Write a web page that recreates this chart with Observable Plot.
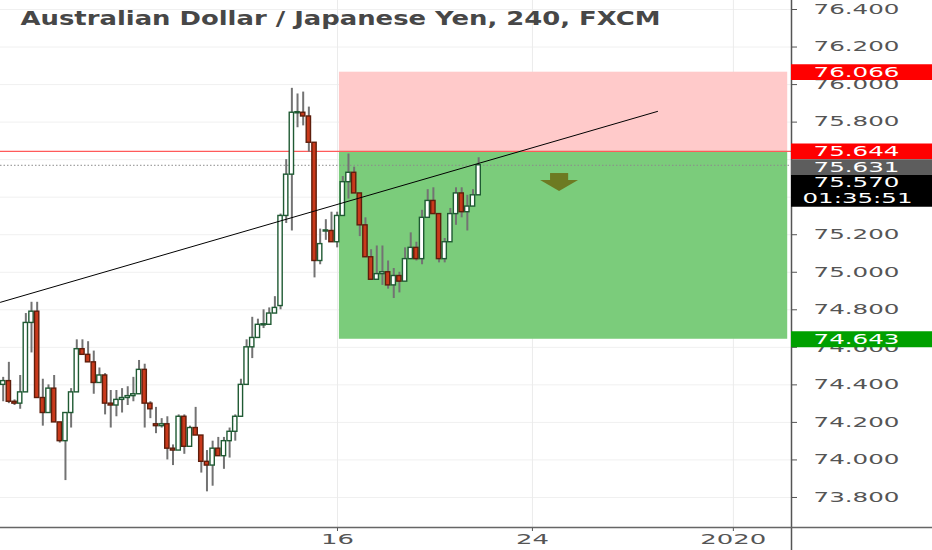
<!DOCTYPE html>
<html>
<head>
<meta charset="utf-8">
<script src="https://cdn.jsdelivr.net/npm/d3@7"></script>
<script src="https://cdn.jsdelivr.net/npm/@observablehq/plot@0.6"></script>
<style>
html,body{margin:0;padding:0;background:#fff;overflow:hidden;}
#chart svg{display:block;}
</style>
</head>
<body>
<div id="chart"></div>
<script>
// ---------- data ----------
const title = "Australian Dollar / Japanese Yen, 240, FXCM";

const opens = [
74.40,74.42,74.31,74.30,74.36,74.73,74.79,74.33,74.25,74.38,
74.20,74.10,74.25,74.36,74.59,74.56,74.52,74.41,74.45,74.30,
74.29,74.32,74.33,74.34,74.35,74.48,74.30,74.19,74.18,74.19,
74.06,74.05,74.23,74.07,74.17,74.13,73.99,73.97,74.06,74.02,
74.10,74.15,74.23,74.40,74.60,74.65,74.72,74.72,74.78,74.82,
75.30,75.52,75.85,75.85,75.83,75.69,75.06,75.22,75.22,75.16,
75.30,75.48,75.53,75.42,75.25,75.08,74.96,74.99,75.00,74.93,
74.98,74.95,75.07,75.13,75.07,75.29,75.38,75.31,75.07,75.16,
75.31,75.42,75.32,75.35,75.41];
const highs = [
74.44,74.52,74.32,74.45,74.78,74.84,74.84,74.43,74.40,74.45,
74.20,74.25,74.38,74.64,74.64,74.63,74.58,74.49,74.46,74.37,
74.37,74.38,74.39,74.44,74.53,74.51,74.31,74.28,74.22,74.23,
74.08,74.24,74.24,74.18,74.28,74.13,74.05,74.10,74.12,74.12,
74.17,74.24,74.43,74.64,74.76,74.75,74.80,74.81,74.87,75.31,
75.60,75.98,75.95,75.96,75.88,75.69,75.23,75.28,75.32,75.32,
75.51,75.63,75.56,75.42,75.29,75.12,75.14,75.14,75.06,75.02,
75.00,75.13,75.21,75.16,75.33,75.44,75.45,75.31,75.18,75.34,
75.45,75.45,75.41,75.44,75.61];
const lows = [
74.31,74.30,74.29,74.27,74.36,74.57,74.33,74.18,74.25,74.20,
74.09,73.89,74.17,74.36,74.56,74.52,74.35,74.41,74.24,74.17,
74.23,74.25,74.29,74.31,74.35,74.17,74.22,74.14,74.17,74.00,
73.97,74.05,74.03,74.07,74.13,73.93,73.83,73.86,74.02,73.95,
74.01,74.10,74.23,74.40,74.54,74.65,74.70,74.72,74.78,74.80,
75.26,75.22,75.77,75.78,75.64,74.97,75.04,75.17,75.16,75.13,
75.30,75.39,75.42,75.19,75.08,74.96,74.96,74.93,74.91,74.86,
74.89,74.95,75.07,75.06,75.04,75.29,75.31,75.05,75.05,75.16,
75.25,75.29,75.22,75.35,75.41];
const closes = [
74.42,74.31,74.30,74.36,74.73,74.79,74.33,74.25,74.38,74.20,
74.10,74.25,74.36,74.59,74.56,74.52,74.41,74.45,74.30,74.29,
74.32,74.33,74.34,74.35,74.48,74.30,74.27,74.18,74.19,74.06,
74.05,74.23,74.07,74.17,74.13,73.99,73.97,74.06,74.02,74.10,
74.15,74.23,74.40,74.60,74.65,74.72,74.72,74.78,74.81,75.30,
75.52,75.85,75.85,75.83,75.69,75.06,75.15,75.22,75.16,75.30,
75.48,75.53,75.42,75.25,75.08,74.96,74.99,75.00,74.93,74.98,
74.95,75.07,75.13,75.07,75.29,75.38,75.31,75.07,75.16,75.31,
75.42,75.32,75.35,75.41,75.57];

const gridTicks = [73.8,74.0,74.2,74.4,74.6,74.8,75.0,75.2,75.4,75.6,75.8,76.0,76.2,76.4];
const yAxisLabels = [73.8,74.0,74.2,74.4,74.6,74.8,75.0,75.2,75.8,76.0,76.2,76.4]; // 75.4 / 75.6 sit under the price tags
const xTickBars = [59.06, 93.5, 129.0];          // bar-index position of the time labels
const xTickLabels = ["16", "24", "2020"];

const stopPrice = 76.066, entryPrice = 75.644, markPrice = 75.631, lastPrice = 75.570, targetPrice = 74.643;
const countdown = "01:35:51";
const zoneBars = [59.4, 138.6];                  // short-position box start / end (bar index)
const trendBars = [-0.48, 115.6];
const trendPrices = [74.84, 75.857];
const arrowBar = 98.3;
const arrowPrices = [75.526, 75.489, 75.430];    // shaft top, head base, tip

// ---------- derived tables ----------
const candles = opens.map((o, i) => ({i, o, h: highs[i], l: lows[i], c: closes[i]}));
const trend = trendBars.map((b, k) => ({b, p: trendPrices[k]}));
const xDomain = [-0.477, 139.27];
const yDomain = [73.640, 76.448];
const xMax = xDomain[1];
const fmt = v => v.toFixed(3);
const tickLabel = new Map(xTickBars.map((b, k) => [b, xTickLabels[k]]));

const zones = [
  {x1: zoneBars[0], x2: zoneBars[1], lo: entryPrice, hi: stopPrice, fill: "#ffcaca"},
  {x1: zoneBars[0], x2: zoneBars[1], lo: targetPrice, hi: entryPrice, fill: "#7bcc7b"}
];
const tags = [
  {y: stopPrice, text: fmt(stopPrice), bg: "#ff0000", row: 0, dx: 22},
  {y: entryPrice, text: fmt(entryPrice), bg: "#ff0000", row: 0, dx: 22},
  {y: entryPrice, text: fmt(markPrice), bg: "#5d5d5d", row: 1, dx: 22},
  {y: entryPrice, text: fmt(lastPrice), bg: "#000000", row: 2, dx: 22},
  {y: entryPrice, text: countdown, bg: "#000000", row: 3, dx: 11},
  {y: targetPrice, text: fmt(targetPrice), bg: "#00a000", row: 0, dx: 22}
];
const rowH = 15.8;

const body = (d) => {
  const lo = Math.min(d.o, d.c), hi = Math.max(d.o, d.c);
  if (hi - lo < 0.006) { const m = (hi + lo) / 2; return [m - 0.003, m + 0.003]; }
  return [lo, hi];
};
const arrowHead = [
  {x: arrowBar - 3.35, y1: arrowPrices[1], y2: arrowPrices[1]},
  {x: arrowBar, y1: arrowPrices[1], y2: arrowPrices[2]},
  {x: arrowBar + 3.35, y1: arrowPrices[1], y2: arrowPrices[1]}
];

const tagMarks = tags.flatMap(t => [
  Plot.ruleY([t], {y: "y", x1: () => xMax, x2: () => xMax + 40, stroke: t.bg, strokeWidth: rowH, dy: t.row * rowH}),
  Plot.text([t], {y: "y", x: () => xMax, text: "text", dx: t.dx, dy: t.row * rowH, textAnchor: "start",
    fill: "#ffffff", fontSize: 13.5})
]);

const chart = Plot.plot({
  width: 932, height: 550,
  marginLeft: 0, marginRight: 141, marginTop: 0, marginBottom: 23,
  x: {domain: xDomain, axis: null},
  y: {domain: yDomain, axis: null},
  color: {type: "identity"},
  style: {fontFamily: "DejaVu Sans, sans-serif", background: "#ffffff", overflow: "hidden"},
  marks: [
    Plot.gridY(gridTicks, {stroke: "#f0f0f0", strokeOpacity: 1}),
    Plot.gridX(xTickBars, {stroke: "#ebebeb", strokeOpacity: 1}),
    Plot.rect(zones, {x1: "x1", x2: "x2", y1: "lo", y2: "hi", fill: "fill"}),
    Plot.ruleY([entryPrice], {stroke: "#ff5a5a", strokeWidth: 1.2}),
    Plot.ruleY([lastPrice], {stroke: "#8c8c8c", strokeWidth: 1, strokeDasharray: "1.5,2"}),
    Plot.ruleX(candles, {x: "i", y1: "l", y2: "h", stroke: "#737373", strokeWidth: 2}),
    Plot.rect(candles, {
      x1: d => d.i - 0.38, x2: d => d.i + 0.38,
      y1: d => body(d)[0], y2: d => body(d)[1],
      fill: d => d.c >= d.o ? "#ffffff" : "#c9391b",
      stroke: d => d.c >= d.o ? "#1f5a33" : "#5e1e0c",
      strokeWidth: 1.4
    }),
    Plot.line(trend, {x: "b", y: "p", stroke: "#000000", strokeWidth: 1}),
    Plot.rect([arrowBar], {x1: d => d - 1.6, x2: d => d + 1.6, y1: () => arrowPrices[1], y2: () => arrowPrices[0], fill: "#6d7a22"}),
    Plot.areaY(arrowHead, {x: "x", y1: "y1", y2: "y2", fill: "#6d7a22", curve: "linear"}),
    Plot.axisY(yAxisLabels, {anchor: "right", tickSize: 5, tickPadding: 17, tickFormat: fmt, fontSize: 13.5, color: "#555555", label: null}),
    Plot.axisX(xTickBars, {anchor: "bottom", tickSize: 4, tickPadding: 3, tickFormat: d => tickLabel.get(d), fontSize: 13.5, color: "#555555", label: null}),
    Plot.ruleX([xMax], {y1: () => 73.4, y2: () => 76.6, stroke: "#555555", strokeWidth: 1.5}),
    Plot.ruleY([yDomain[0]], {x1: () => xDomain[0] - 1, x2: () => xMax + 40, stroke: "#666666", strokeWidth: 1.3}),
    ...tagMarks,
    Plot.text([title], {frameAnchor: "top-left", dx: 20, dy: 18, lineAnchor: "middle", textAnchor: "start",
      fontSize: 19, fontWeight: "bold", fill: "#474747"})
  ]
});
document.getElementById("chart").append(chart);

// horizontal glyph stretch, as in the reference screenshot
chart.querySelectorAll("text").forEach(t => {
  const s = t.textContent;
  let w = null;
  if (s === title) w = 640;
  else if (s === countdown) w = 110;
  else if (/^\d+\.\d{3}$/.test(s)) w = 86;
  else if (xTickLabels.includes(s)) w = s.length * 16.5;
  if (w) {
    t.setAttribute("textLength", w);
    t.setAttribute("lengthAdjust", "spacingAndGlyphs");
  }
});
</script>
</body>
</html>
